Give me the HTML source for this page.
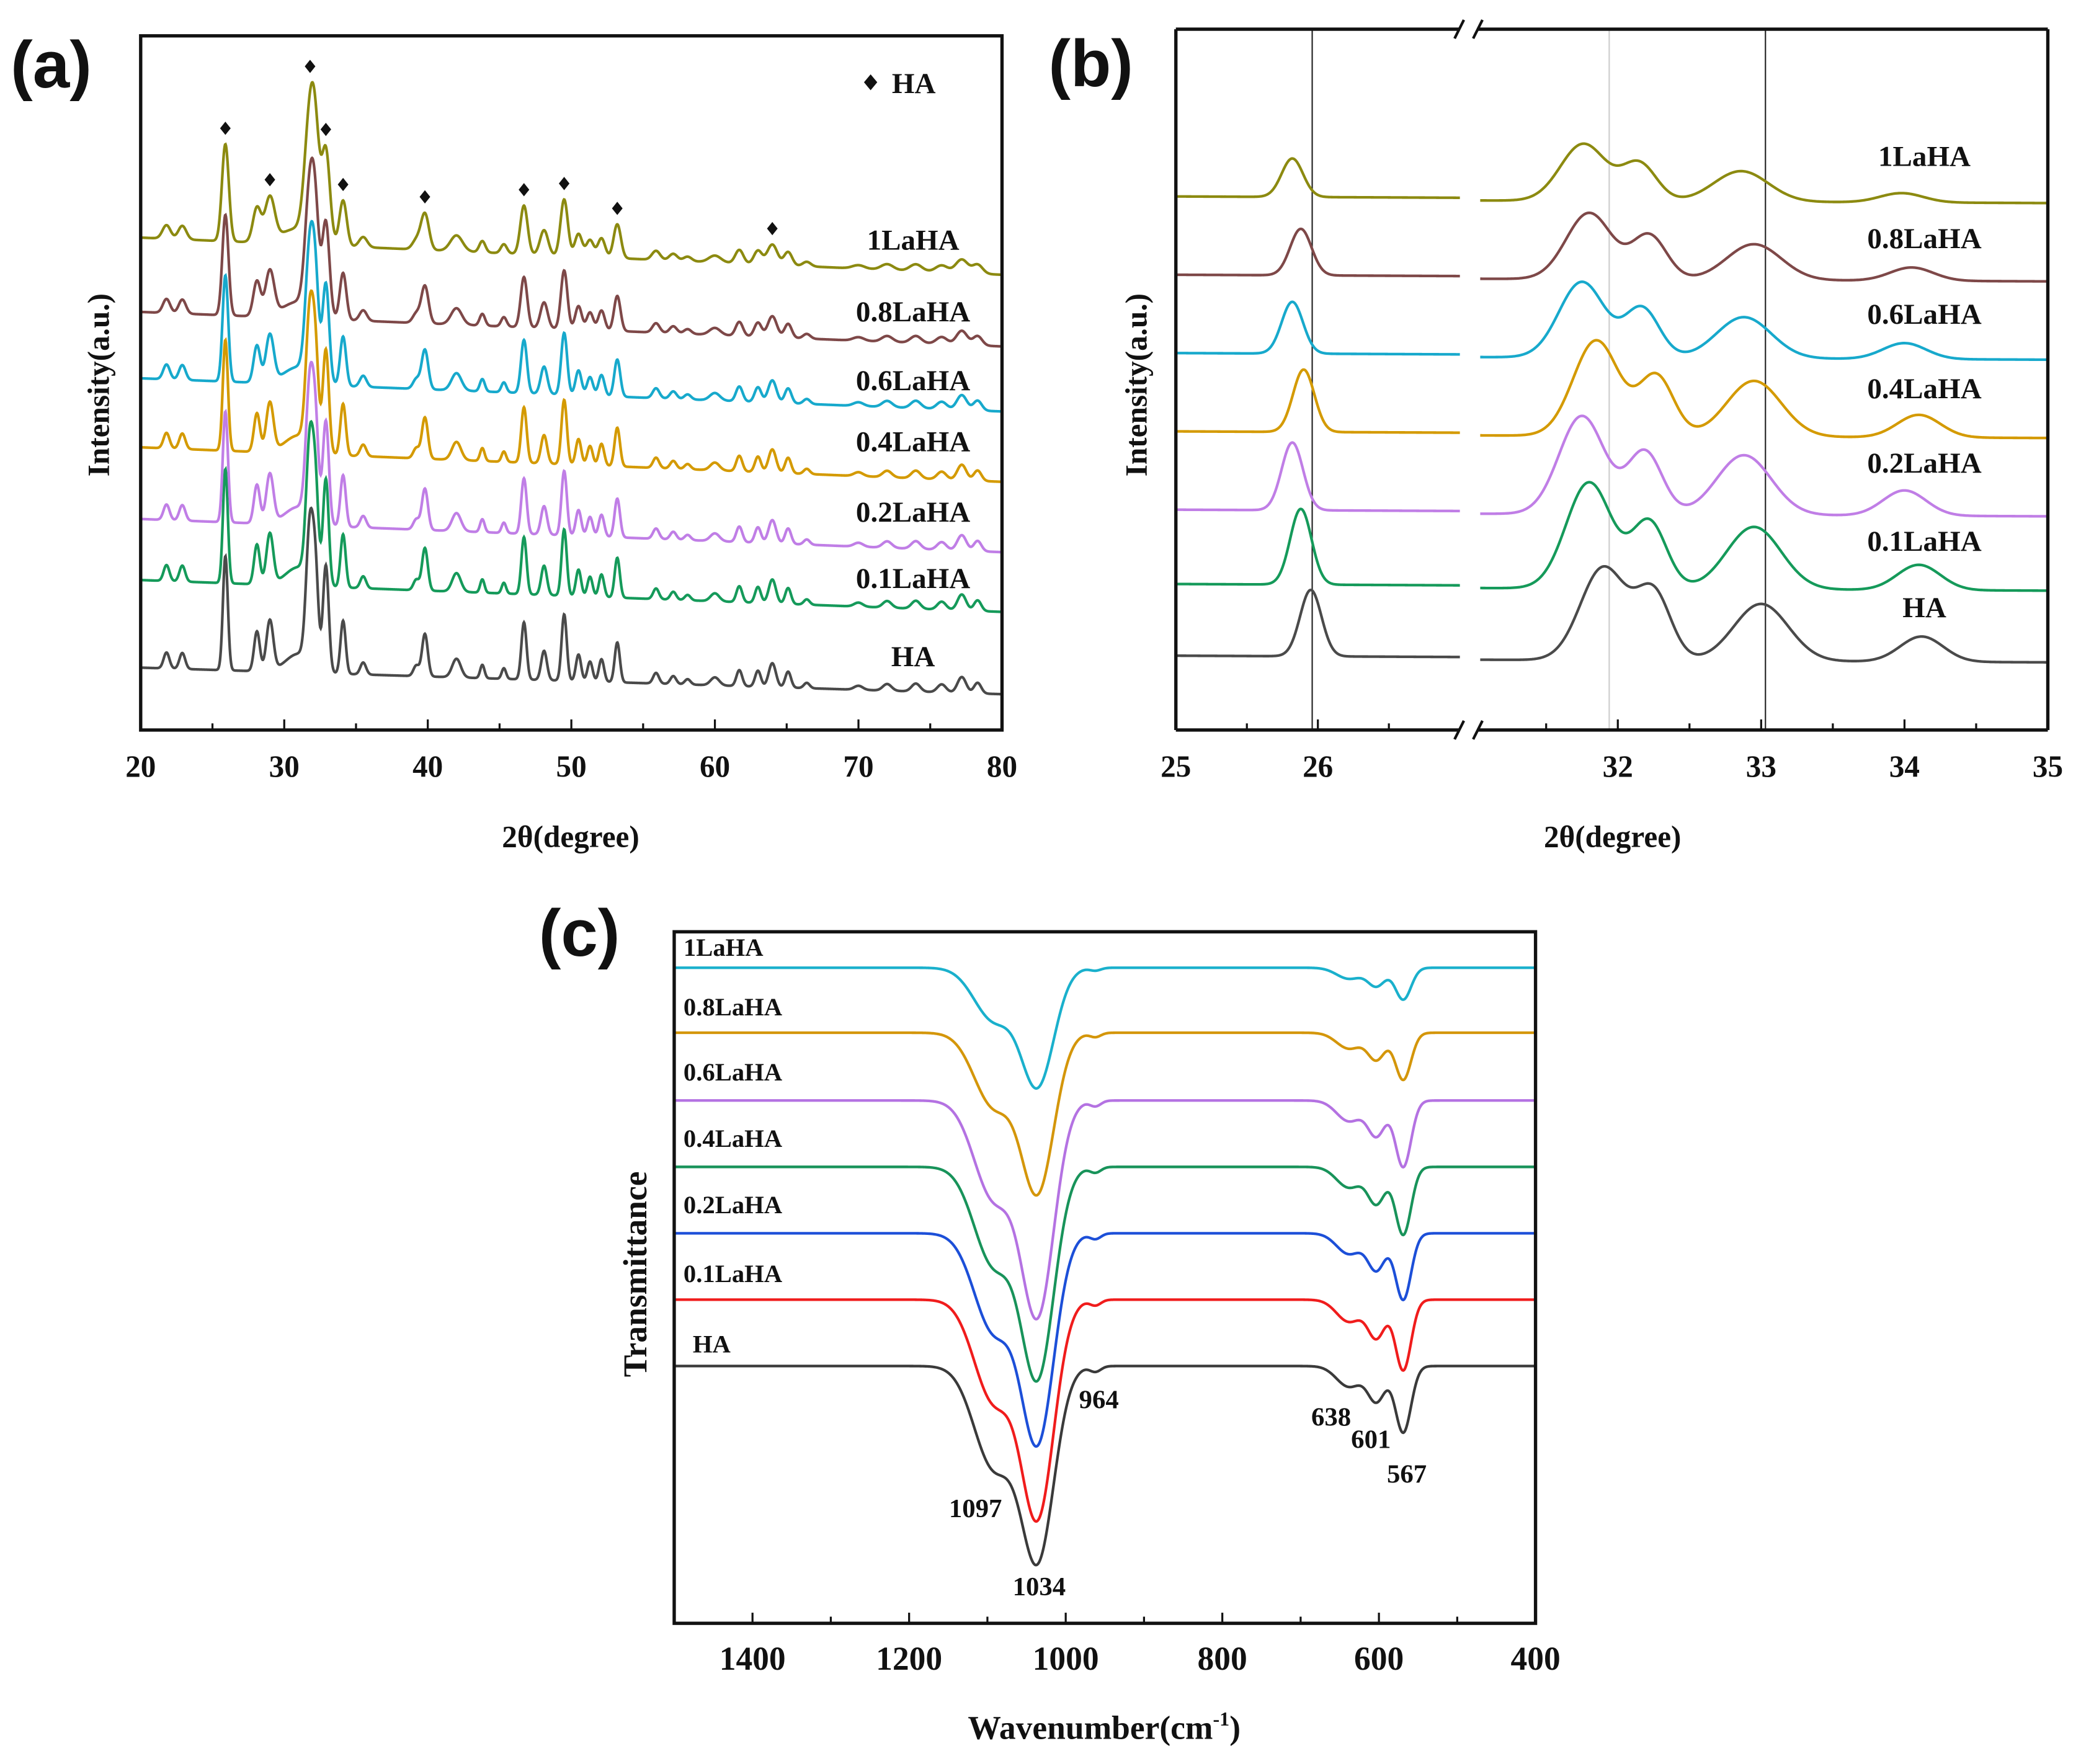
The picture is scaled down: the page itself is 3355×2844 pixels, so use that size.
<!DOCTYPE html>
<html><head><meta charset="utf-8"><title>XRD and FTIR of LaHA</title>
<style>html,body{margin:0;padding:0;background:#fff}svg{display:block}
text{font-family:"Liberation Serif",serif;font-weight:bold;fill:#111}</style></head>
<body>
<svg id="fig" width="3355" height="2844" viewBox="0 0 1568 1329" preserveAspectRatio="none" xmlns="http://www.w3.org/2000/svg">
<rect width="1568" height="1329" fill="#fff"/>
<g id="pa"></g>
<g id="pb"></g>
<g id="pc"></g>
</svg>
<script>
// ---------- Panel (a) data ----------
const aNames = ["HA","0.1LaHA","0.2LaHA","0.4LaHA","0.6LaHA","0.8LaHA","1LaHA"];
const aBase = [47,113,159,213,265,315,371];
const aDrop = [20,24,25,26,25,26,28];
const aHeightF = [1,1,0.97,0.97,0.93,0.88,0.85];
const aWidthF = [1,1,1.05,1.05,1.15,1.25,1.4];
const aPeakPos = [21.8,22.9,25.9,28.1,29.0,31.8,32.2,32.9,34.1,35.5,39.2,39.8,42.0,43.8,45.3,46.7,48.1,49.5,50.5,51.3,52.1,53.2,55.9,57.1,58.1,60.0,61.7,63.0,64.0,65.1,66.4,70,72,74,75.8,77.2,78.3,31.0];
const aPeakH = [12,12,86,30,38,105,55,80,40,9,8,32,14,10,8,43,22,50,20,15,17,30,8,6,4,6,12,12,18,12,4,3,5,6,6,12,8,14];
const aPeakW = [0.2,0.2,0.17,0.2,0.24,0.26,0.2,0.2,0.18,0.2,0.2,0.2,0.3,0.15,0.15,0.18,0.2,0.18,0.18,0.18,0.18,0.18,0.2,0.2,0.2,0.3,0.2,0.2,0.25,0.2,0.2,0.3,0.3,0.3,0.3,0.3,0.25,0.9];
const aMarkers = [25.9,29.0,31.8,32.9,34.1,39.8,46.7,49.5,53.2,64.0];
const aTicks = [20,30,40,50,60,70,80];
// ---------- Panel (b) data ----------
const bNames = ["HA","0.1LaHA","0.2LaHA","0.4LaHA","0.6LaHA","0.8LaHA","1LaHA"];
const bBase = [56,110,166,225,284,343,402];
const bP1 = [25.95,25.88,25.82,25.9,25.82,25.88,25.82];
const bP2 = [31.9,31.8,31.75,31.85,31.75,31.8,31.76];
const bP3 = [32.25,32.22,32.19,32.27,32.17,32.22,32.15];
const bP4 = [33.0,32.95,32.88,32.95,32.88,32.95,32.86];
const bP5 = [34.12,34.1,34.0,34.1,34.0,34.05,33.98];
const bH1 = [50,57,51,47,39,35,29];
const bH2 = [70,80,74,72,57,50,43];
const bH3 = [50,50,47,45,37,33,28];
const bH4 = [43,47,45,42,31,27,23];
const bH5 = [19,19,19,17,12,10,7];
const bTicks = [25,26,32,33,34,35];
// ---------- Panel (c) data ----------
const cNames = ["HA","0.1LaHA","0.2LaHA","0.4LaHA","0.6LaHA","0.8LaHA","1LaHA"];
const cColors = ["#3a3a3a","#f01c1c","#1c4fd8","#18935a","#b472e2","#d4960a","#1ab0cc"];
const cBase = [37.2,46.8,56.4,66.0,75.6,85.4,94.8];
const cD1034 = [27.5,30.8,29.6,29.8,30.4,22.6,16.8];
const cD1097 = [14.5,14.5,14,14,14,10.5,7.5];
const cD964 = [0.8,0.8,0.8,0.8,0.8,0.6,0.4];
const cD638 = [3,3.2,3,3,3,2.3,1.6];
const cD601 = [5,5.4,5.2,5.2,5,3.8,2.6];
const cD567 = [9.6,10.2,9.6,9.8,9.6,6.8,4.6];
const cTicks = [1400,1200,1000,800,600,400];
const cAnnot = ["1097","1034","964","638","601","567"];

const aColors = ["#4a4a4a","#159a5a","#c07ee6","#d49a00","#17a9cc","#7e4848","#8c8a10"];
const NS="http://www.w3.org/2000/svg";
function mk(parent,tag,attrs,txt){const e=document.createElementNS(NS,tag);for(const k in attrs)e.setAttribute(k,attrs[k]);if(txt!==undefined)e.textContent=txt;parent.appendChild(e);return e;}
function gauss(x,c,s){return Math.exp(-((x-c)*(x-c))/(2*s*s));}

// ===== Panel A =====
(function(){
 const g=document.getElementById('pa');
 const L=106,R=755,T=27,B=550;
 const xs=v=>L+(v-20)/60*(R-L);
 const ys=v=>B-v;
 const cp=mk(g,'clipPath',{id:'clipA'});mk(cp,'rect',{x:L,y:T,width:R-L,height:B-T});
 function val(i,x){let y=aBase[i]-aDrop[i]*(x-20)/60;for(let k=0;k<aPeakPos.length;k++){y+=aPeakH[k]*aHeightF[i]*gauss(x,aPeakPos[k],aPeakW[k]*aWidthF[i]);}return y;}
 for(let i=0;i<aNames.length;i++){
  let d='';for(let x=20;x<=80;x+=0.03){d+=(d?'L':'M')+xs(x).toFixed(2)+' '+ys(val(i,x)).toFixed(2);}
  const p=mk(g,'path',{d:d,fill:'none',stroke:aColors[i],'stroke-width':2,'clip-path':'url(#clipA)'});
  
  
 }
 const last=aNames.length-1;
 aMarkers.forEach(m=>{
  let top=val(last,m);for(let x=m-0.3;x<=m+0.3;x+=0.02)top=Math.max(top,val(last,x));
  const cy=Math.max(T+11,ys(top)-12);const cx=xs(m);
  const dm=mk(g,'path',{d:`M${cx} ${cy-5}L${cx+4} ${cy}L${cx} ${cy+5}L${cx-4} ${cy}Z`,fill:'#111'});
  
  
 });
 mk(g,'rect',{x:L,y:T,width:R-L,height:B-T,fill:'none',stroke:'#111','stroke-width':2.5,});
 for(let v=20;v<=80;v+=5){mk(g,'line',{x1:xs(v),x2:xs(v),y1:B,y2:B-(v%10===0?8:5),stroke:'#111','stroke-width':1.5});}
 aTicks.forEach(v=>{const t=mk(g,'text',{x:xs(v),y:585,'font-size':23,'text-anchor':'middle'},v);
  
  });
 const lblY=[502,443,393,340,294,242,188];
 aNames.forEach((n,i)=>{const t=mk(g,'text',{x:688,y:lblY[i],'font-size':22,'text-anchor':'middle'},n);
  
  });
 mk(g,'path',{d:'M656 56L661 62L656 68L651 62Z',fill:'#111',});
 mk(g,'text',{x:672,y:70,'font-size':22,},'HA');
 mk(g,'text',{x:430,y:638,'font-size':23,'text-anchor':'middle',},'2θ(degree)');
 mk(g,'text',{x:0,y:0,'font-size':23,'text-anchor':'middle',transform:'translate(82,290) rotate(-90)',},'Intensity(a.u.)');
 mk(g,'text',{x:8,y:66,'font-size':50,style:'font-family:"Liberation Sans",sans-serif',},'(a)');
})();

// ===== Panel B =====
(function(){
 const g=document.getElementById('pb');
 const L=886,R=1543,T=22,B=550;
 const xs=v=> v<=27.5 ? L+(v-25)*107 : 1219+(v-32)*108;
 const ys=v=>B-v;
 const cp=mk(g,'clipPath',{id:'clipB'});mk(cp,'rect',{x:L,y:T,width:R-L,height:B-T});
 function val(i,x){return bBase[i]-5*(x-25)/10+bH1[i]*gauss(x,bP1[i],0.075)+bH2[i]*gauss(x,bP2[i],0.16)+bH3[i]*gauss(x,bP3[i],0.12)+bH4[i]*gauss(x,bP4[i],0.19)+bH5[i]*gauss(x,bP5[i],0.15);}
 mk(g,'line',{x1:xs(25.96),x2:xs(25.96),y1:T,y2:B,stroke:'#222','stroke-width':1,});
 mk(g,'line',{x1:xs(31.94),x2:xs(31.94),y1:T,y2:B,stroke:'#ccc','stroke-width':1,});
 mk(g,'line',{x1:xs(33.03),x2:xs(33.03),y1:T,y2:B,stroke:'#222','stroke-width':1,});
 for(let i=0;i<bNames.length;i++){
  let d='';for(let x=25;x<=27;x+=0.005){d+=(d?'L':'M')+xs(x).toFixed(2)+' '+ys(val(i,x)).toFixed(2);}
  let d2='';for(let x=31.04;x<=35;x+=0.008){d2+=(d2?'L':'M')+xs(x).toFixed(2)+' '+ys(val(i,x)).toFixed(2);}
  const p=mk(g,'path',{d:d+d2,fill:'none',stroke:aColors[i],'stroke-width':2,'clip-path':'url(#clipB)'});
  
  
 }
 const bx=1100,bx2=1113;
 [T,B].forEach(y=>{
  mk(g,'line',{x1:L,x2:bx,y1:y,y2:y,stroke:'#111','stroke-width':2.5});
  mk(g,'line',{x1:bx2,x2:R,y1:y,y2:y,stroke:'#111','stroke-width':2.5});
  mk(g,'line',{x1:bx-4,x2:bx+3,y1:y+7,y2:y-7,stroke:'#111','stroke-width':2});
  mk(g,'line',{x1:bx2-3,x2:bx2+4,y1:y+7,y2:y-7,stroke:'#111','stroke-width':2});
 });
 mk(g,'line',{x1:L,x2:L,y1:T,y2:B,stroke:'#111','stroke-width':2.5});
 mk(g,'line',{x1:R,x2:R,y1:T,y2:B,stroke:'#111','stroke-width':2.5});
 [25,26,32,33,34,35].forEach(v=>mk(g,'line',{x1:xs(v),x2:xs(v),y1:B,y2:B-8,stroke:'#111','stroke-width':1.5}));
 [25.5,26.5,31.5,32.5,33.5,34.5].forEach(v=>mk(g,'line',{x1:xs(v),x2:xs(v),y1:B,y2:B-5,stroke:'#111','stroke-width':1.5}));
 bTicks.forEach(v=>{const t=mk(g,'text',{x:xs(v),y:585,'font-size':23,'text-anchor':'middle'},v);
  
  });
 const lblY=[465,415,356,300,244,187,125];
 bNames.forEach((n,i)=>{const t=mk(g,'text',{x:1450,y:lblY[i],'font-size':22,'text-anchor':'middle'},n);
  
  });
 mk(g,'text',{x:1215,y:638,'font-size':23,'text-anchor':'middle',},'2θ(degree)');
 mk(g,'text',{x:0,y:0,'font-size':23,'text-anchor':'middle',transform:'translate(864,290) rotate(-90)',},'Intensity(a.u.)');
 mk(g,'text',{x:790,y:65,'font-size':50,style:'font-family:"Liberation Sans",sans-serif',},'(b)');
})();

// ===== Panel C =====
(function(){
 const g=document.getElementById('pc');
 const L=508,R=1157,T=702,B=1223;
 const xs=v=>L+(1500-v)/1100*(R-L);
 const ys=v=>B-v*(B-T)/100;
 const cp=mk(g,'clipPath',{id:'clipC'});mk(cp,'rect',{x:L,y:T,width:R-L,height:B-T});
 function val(i,w){return cBase[i]-cD1034[i]*gauss(w,1036,21)-cD1097[i]*gauss(w,1092,25)-cD964[i]*gauss(w,962,7)-cD638[i]*gauss(w,638,16)-cD601[i]*gauss(w,603,11)-cD567[i]*gauss(w,569,10);}
 for(let i=0;i<cNames.length;i++){
  let d='';for(let w=1500;w>=400;w-=1){d+=(d?'L':'M')+xs(w).toFixed(2)+' '+ys(val(i,w)).toFixed(2);}
  const p=mk(g,'path',{d:d,fill:'none',stroke:cColors[i],'stroke-width':2,'clip-path':'url(#clipC)'});
  
  
 }
 mk(g,'rect',{x:L,y:T,width:R-L,height:B-T,fill:'none',stroke:'#111','stroke-width':2.5,});
 for(let v=1500;v>=400;v-=100){mk(g,'line',{x1:xs(v),x2:xs(v),y1:B,y2:B-(v%200===0?8:5),stroke:'#111','stroke-width':1.5});}
 cTicks.forEach(v=>{const t=mk(g,'text',{x:xs(v),y:1258,'font-size':25,'text-anchor':'middle'},v);
  
  });
 const lblY=[1019,966,914,864,814,765,720];
 cNames.forEach((n,i)=>{const t=mk(g,'text',{x:i===0?522:515,y:lblY[i],'font-size':19},n);
  
  });
 const ax=[735,783,828,1003,1033,1060], ay=[1143,1202,1061,1074,1091,1117];
 cAnnot.forEach((s,i)=>{const t=mk(g,'text',{x:ax[i],y:ay[i],'font-size':20,'text-anchor':'middle'},s);
  
  });
 const xt=mk(g,'text',{x:832,y:1310,'font-size':25,'text-anchor':'middle',},'Wavenumber(cm');
 mk(xt,'tspan',{'font-size':15,dy:-10},'-1');
 mk(xt,'tspan',{dy:10},')');
 mk(g,'text',{x:0,y:0,'font-size':25,'text-anchor':'middle',transform:'translate(487,960) rotate(-90)',},'Transmittance');
 mk(g,'text',{x:406,y:720,'font-size':50,style:'font-family:"Liberation Sans",sans-serif',},'(c)');
})();
</script>
</body></html>
